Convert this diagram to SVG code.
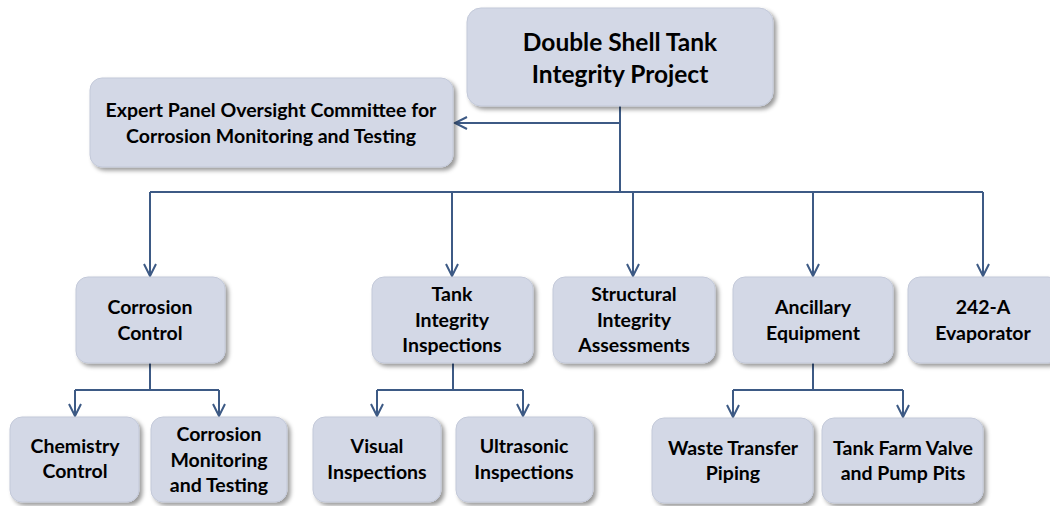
<svg xmlns="http://www.w3.org/2000/svg" width="1050" height="506" viewBox="0 0 1050 506">
  <defs>
    <filter id="shadow" x="-10%" y="-10%" width="125%" height="135%">
      <feDropShadow dx="3" dy="3" stdDeviation="2" flood-color="#000" flood-opacity="0.4"/>
    </filter>
    <marker id="arrow" markerUnits="userSpaceOnUse" markerWidth="16" markerHeight="16" refX="13" refY="7" orient="auto" viewBox="0 0 16 14">
      <path d="M1,1 L13,7 L1,13" fill="none" stroke="#3D5A85" stroke-width="2"/>
    </marker>
    <style>
      .box { fill: #D3D8E6; stroke: #C3C9D9; stroke-width: 1; filter: url(#shadow); }
      .lbl { font-family: Lato, "Liberation Sans", sans-serif; font-weight: bold; font-size: 19.5px; fill: #000; text-anchor: middle; }
      .title { font-size: 24.5px; }
      .conn { fill: none; stroke: #3D5A85; stroke-width: 2; }
    </style>
  </defs>
  <rect width="1050" height="506" fill="#fff"/>

  <!-- connectors -->
  <g id="connectors">
    <path class="conn" d="M620,106 V192"/>
    <path class="conn" d="M620,123 H455" marker-end="url(#arrow)"/>
    <path class="conn" d="M150,192 H983"/>
    <path class="conn" d="M150,192 V276" marker-end="url(#arrow)"/>
    <path class="conn" d="M452,192 V276" marker-end="url(#arrow)"/>
    <path class="conn" d="M633,192 V276" marker-end="url(#arrow)"/>
    <path class="conn" d="M813,192 V276" marker-end="url(#arrow)"/>
    <path class="conn" d="M983,192 V276" marker-end="url(#arrow)"/>
    <!-- corrosion control children -->
    <path class="conn" d="M150,363 V390"/>
    <path class="conn" d="M75,390 H219"/>
    <path class="conn" d="M75,390 V416" marker-end="url(#arrow)"/>
    <path class="conn" d="M219,390 V416" marker-end="url(#arrow)"/>
    <!-- tank integrity inspection children -->
    <path class="conn" d="M453,363 V390"/>
    <path class="conn" d="M377,390 H523"/>
    <path class="conn" d="M377,390 V416" marker-end="url(#arrow)"/>
    <path class="conn" d="M523,390 V416" marker-end="url(#arrow)"/>
    <!-- ancillary equipment children -->
    <path class="conn" d="M813,363 V390"/>
    <path class="conn" d="M733,390 H903"/>
    <path class="conn" d="M733,390 V417" marker-end="url(#arrow)"/>
    <path class="conn" d="M903,390 V417" marker-end="url(#arrow)"/>
  </g>

  <g id="dst-project">
    <rect class="box" x="467" y="8" width="306" height="98" rx="14"/>
    <text class="lbl title" x="620" y="51">Double Shell Tank</text>
    <text class="lbl title" x="620" y="83">Integrity Project</text>
  </g>

  <g id="expert-panel">
    <rect class="box" x="90" y="78" width="363" height="89" rx="12"/>
    <text class="lbl" x="271" y="117">Expert Panel Oversight Committee for</text>
    <text class="lbl" x="271" y="143">Corrosion Monitoring and Testing</text>
  </g>

  <g id="corrosion-control">
    <rect class="box" x="76" y="277" width="149" height="86" rx="12"/>
    <text class="lbl" x="150" y="314">Corrosion</text>
    <text class="lbl" x="150" y="340">Control</text>
  </g>

  <g id="tank-integrity-inspections">
    <rect class="box" x="372" y="277" width="161" height="86" rx="12"/>
    <text class="lbl" x="452" y="301">Tank</text>
    <text class="lbl" x="452" y="327">Integrity</text>
    <text class="lbl" x="452" y="352">Inspections</text>
  </g>

  <g id="structural-integrity">
    <rect class="box" x="553" y="277" width="162" height="86" rx="12"/>
    <text class="lbl" x="634" y="301">Structural</text>
    <text class="lbl" x="634" y="327">Integrity</text>
    <text class="lbl" x="634" y="352">Assessments</text>
  </g>

  <g id="ancillary-equipment">
    <rect class="box" x="733" y="277" width="160" height="86" rx="12"/>
    <text class="lbl" x="813" y="314">Ancillary</text>
    <text class="lbl" x="813" y="340">Equipment</text>
  </g>

  <g id="evaporator">
    <rect class="box" x="908" y="277" width="152" height="86" rx="12"/>
    <text class="lbl" x="983" y="314">242-A</text>
    <text class="lbl" x="983" y="340">Evaporator</text>
  </g>

  <g id="chemistry-control">
    <rect class="box" x="10" y="417" width="129" height="85" rx="12"/>
    <text class="lbl" x="75" y="453">Chemistry</text>
    <text class="lbl" x="75" y="478">Control</text>
  </g>

  <g id="corrosion-monitoring">
    <rect class="box" x="151" y="417" width="136" height="85" rx="12"/>
    <text class="lbl" x="219" y="441">Corrosion</text>
    <text class="lbl" x="219" y="467">Monitoring</text>
    <text class="lbl" x="219" y="492">and Testing</text>
  </g>

  <g id="visual-inspections">
    <rect class="box" x="313" y="417" width="128" height="85" rx="12"/>
    <text class="lbl" x="377" y="453">Visual</text>
    <text class="lbl" x="377" y="479">Inspections</text>
  </g>

  <g id="ultrasonic-inspections">
    <rect class="box" x="456" y="417" width="137" height="85" rx="12"/>
    <text class="lbl" x="524" y="453">Ultrasonic</text>
    <text class="lbl" x="524" y="479">Inspections</text>
  </g>

  <g id="waste-transfer-piping">
    <rect class="box" x="652" y="418" width="161" height="85" rx="12"/>
    <text class="lbl" x="733" y="455">Waste Transfer</text>
    <text class="lbl" x="733" y="480">Piping</text>
  </g>

  <g id="valve-pump-pits">
    <rect class="box" x="822" y="418" width="161" height="85" rx="12"/>
    <text class="lbl" x="903" y="455">Tank Farm Valve</text>
    <text class="lbl" x="903" y="480">and Pump Pits</text>
  </g>
</svg>
